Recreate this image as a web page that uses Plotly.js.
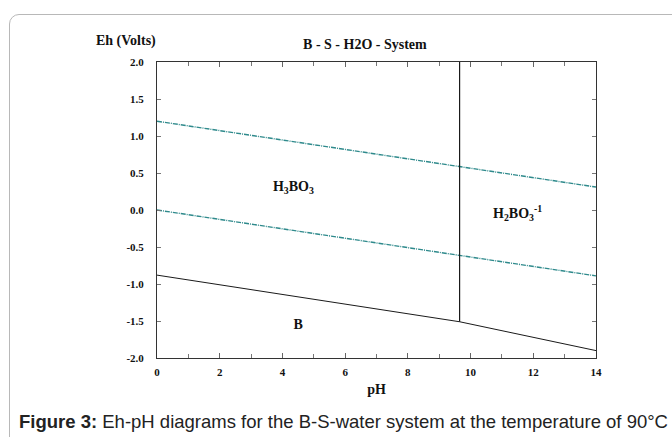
<!DOCTYPE html>
<html>
<head>
<meta charset="utf-8">
<script src="https://cdn.plot.ly/plotly-3.0.1.min.js"></script>
<style>
  html, body { margin: 0; padding: 0; background: #fff; }
  #wrap { position: relative; width: 672px; height: 437px; overflow: hidden; }
  #frame { position: absolute; left: 9px; top: 14px; width: 700px; height: 460px;
           border: 1px solid #b8b8b8; border-radius: 10px; box-sizing: border-box; }
  #chart { position: absolute; left: 0; top: 0; width: 672px; height: 437px; }
</style>
</head>
<body>
<div id="wrap">
  <div id="frame"></div>
  <div id="chart"></div>
</div>
<script>
// Data
const waterPh = [0, 14];
const upperWaterEh = [1.2, 0.31];
const lowerWaterEh = [0.0, -0.89];
const boronPh = [0, 9.65, 14];
const boronEh = [-0.88, -1.51, -1.90];
const borateBoundaryPh = [9.65, 9.65];
const borateBoundaryEh = [2.0, -1.51];
const xTicks = [0, 2, 4, 6, 8, 10, 12, 14];
const yTicks = [2.0, 1.5, 1.0, 0.5, 0.0, -0.5, -1.0, -1.5, -2.0];
const regionLabels = ['<b>H<sub>3</sub>BO<sub>3</sub></b>', '<b>B</b>', '<b>H<sub>2</sub>BO<sub>3</sub><sup>-1</sup></b>'];
const regionPh = [4.35, 4.5, 11.5];
const regionEh = [0.30, -1.56, -0.06];

const serif = 'Liberation Serif, Times New Roman, serif';
const teal = '#2f8a8c';

const traces = [
  { x: waterPh, y: upperWaterEh, mode: 'lines', line: { color: teal, width: 1.4, dash: '5px,1px,1px,1px' }, hoverinfo: 'skip' },
  { x: waterPh, y: lowerWaterEh, mode: 'lines', line: { color: teal, width: 1.4, dash: '5px,1px,1px,1px' }, hoverinfo: 'skip' },
  { x: boronPh, y: boronEh, mode: 'lines', line: { color: '#1a1a1a', width: 1 }, hoverinfo: 'skip' },
  { x: borateBoundaryPh, y: borateBoundaryEh, mode: 'lines', line: { color: '#1a1a1a', width: 1.2 }, hoverinfo: 'skip' },
  { x: regionPh, y: regionEh, mode: 'text', text: regionLabels,
    textfont: { family: serif, size: 14, color: '#111' }, textposition: 'middle center', hoverinfo: 'skip' }
];

const layout = {
  width: 672, height: 437,
  margin: { l: 157, r: 76, t: 62, b: 79 },
  paper_bgcolor: 'rgba(0,0,0,0)',
  plot_bgcolor: '#fff',
  showlegend: false,
  font: { family: serif, color: '#111' },
  title: { text: '<b>B - S - H2O - System</b>', font: { family: serif, size: 14, color: '#111' },
           x: 0.543, xanchor: 'center', y: 0.9, yanchor: 'middle', yref: 'container' },
  xaxis: {
    range: [0, 14], tickvals: xTicks, ticktext: xTicks.map(v => '<b>' + v + '</b>'),
    ticks: 'inside', ticklen: 5, tickcolor: '#666', showgrid: false, zeroline: false,
    showline: true, linecolor: '#333', linewidth: 1, mirror: 'ticks',
    tickfont: { family: serif, size: 11, color: '#111' },
    ticklabelstandoff: 4,
    minor: { dtick: 1, ticks: 'inside', ticklen: 4, tickcolor: '#777' },
    title: { text: '<b>pH</b>', font: { family: serif, size: 14, color: '#111' }, standoff: 6 }
  },
  yaxis: {
    range: [-2, 2], tickvals: yTicks, ticktext: yTicks.map(v => '<b>' + v.toFixed(1) + '</b>'),
    ticks: 'inside', ticklen: 4, tickcolor: '#777', showgrid: false, zeroline: false,
    showline: true, linecolor: '#333', linewidth: 1, mirror: 'ticks',
    tickfont: { family: serif, size: 11, color: '#111' },
    ticklabelstandoff: 10
  },
  annotations: [
    { text: '<b>Eh (Volts)</b>', xref: 'paper', yref: 'paper', x: -0.07, y: 1.07,
      xanchor: 'center', yanchor: 'middle', showarrow: false,
      font: { family: serif, size: 14, color: '#111' } },
    { text: '<b>Figure 3:</b> Eh-pH diagrams for the B-S-water system at the temperature of 90°C',
      xref: 'paper', yref: 'paper', x: -0.32, y: -0.215, xanchor: 'left', yanchor: 'middle',
      showarrow: false, font: { family: 'Liberation Sans, Arial, sans-serif', size: 18.5, color: '#222' } }
  ]
};

Plotly.newPlot('chart', traces, layout, { displayModeBar: false, staticPlot: true });
</script>
</body>
</html>
